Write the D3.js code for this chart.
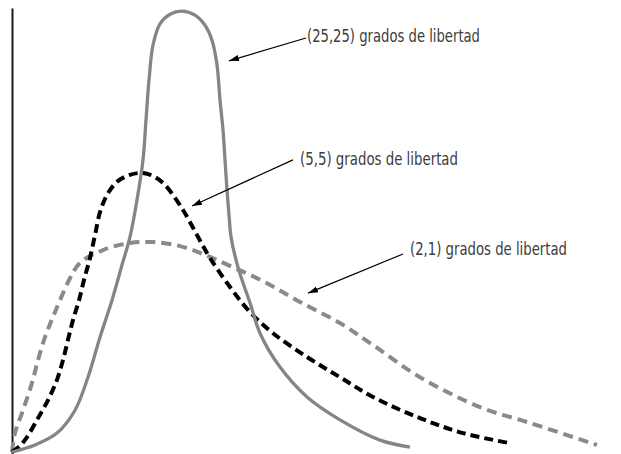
<!DOCTYPE html>
<html>
<head>
<style>
body { margin: 0; background: #fff; }
#chart { display: block; }
.label {
    font-family: "Liberation Sans Narrow", "DejaVu Sans Condensed", sans-serif;
    font-size: 17px;
    fill: #3c3c3c;
}
</style>
</head>
<body>
<svg id="chart" width="621" height="454"></svg>
<script src="https://cdn.jsdelivr.net/npm/d3@7"></script>
<script>
    // curves (x, density)
    const curve_25_25 = [[0,0],[0.23,0.016],[0.45,0.043],[0.63,0.095],[0.76,0.170],[0.88,0.261],[1.00,0.345],
        [1.10,0.425],[1.18,0.489],[1.25,0.573],[1.31,0.664],[1.34,0.755],[1.37,0.845],[1.41,0.925],[1.48,0.973],
        [1.58,0.995],[1.70,1.002],[1.83,0.993],[1.93,0.970],[2.00,0.936],[2.05,0.880],[2.08,0.800],[2.11,0.732],
        [2.13,0.664],[2.15,0.595],[2.17,0.539],[2.19,0.489],[2.26,0.420],[2.38,0.339],[2.48,0.270],[2.68,0.193],
        [2.95,0.125],[3.28,0.073],[3.68,0.027],[3.98,0.011]];
    const curve_5_5 = [[0,0],[0.08,0.014],[0.15,0.034],[0.26,0.077],[0.36,0.118],[0.45,0.164],[0.51,0.209],
        [0.56,0.255],[0.61,0.300],[0.67,0.345],[0.72,0.391],[0.78,0.441],[0.83,0.493],[0.88,0.545],[0.95,0.584],
        [1.05,0.614],[1.18,0.630],[1.31,0.634],[1.43,0.625],[1.53,0.607],[1.71,0.550],[1.85,0.493],[1.98,0.441],
        [2.18,0.375],[2.38,0.318],[2.61,0.270],[2.95,0.216],[3.28,0.170],[3.61,0.125],[4.08,0.077],[4.51,0.043],
        [4.98,0.020]];
    const curve_2_1 = [[0,0],[0.03,0.043],[0.11,0.095],[0.20,0.157],[0.26,0.209],[0.33,0.261],[0.41,0.307],
        [0.48,0.345],[0.58,0.395],[0.68,0.430],[0.91,0.459],[1.18,0.475],[1.41,0.477],[1.68,0.468],[1.93,0.448],
        [2.21,0.420],[2.53,0.386],[2.88,0.341],[3.28,0.293],[3.61,0.243],[4.08,0.170],[4.68,0.102],[5.18,0.066],
        [5.85,0.016]];

    const labels = ["(25,25) grados de libertad", "(5,5) grados de libertad", "(2,1) grados de libertad"];
    // [text x, text y, arrow start x, arrow start y, arrow tip x, arrow tip y, text end x] in data units
    const label_anchor = [[2.95,0.932,2.94,0.941,2.17,0.889,4.68],
                          [2.88,0.652,2.81,0.664,1.80,0.559,4.46],
                          [3.98,0.448,3.91,0.450,2.96,0.361,5.55]];

    const svg = d3.select("#chart");
    const x = d3.scaleLinear().domain([0, 6]).range([12, 612]);
    const y = d3.scaleLinear().domain([0, 1]).range([452, 12]);

    svg.append("defs").append("marker")
        .attr("id", "arrow")
        .attr("markerUnits", "userSpaceOnUse")
        .attr("viewBox", "0 -4 10 8")
        .attr("refX", 10).attr("refY", 0)
        .attr("markerWidth", 10).attr("markerHeight", 8)
        .attr("orient", "auto")
        .append("path")
        .attr("d", "M0,-3.2L10,0L0,3.2Z")
        .attr("fill", "#000");

    // vertical axis, no ticks
    const axis_scale = y.copy().domain([-0.005, 1.01]).range([454, 8]);
    svg.append("g")
        .attr("transform", "translate(" + x(0) + ",0)")
        .call(d3.axisLeft(axis_scale).tickValues([]).tickSizeOuter(0))
        .select(".domain")
        .attr("stroke", "#1a1a1a")
        .attr("stroke-width", 2);

    const line = d3.line()
        .x(d => x(d[0]))
        .y(d => y(d[1]))
        .curve(d3.curveCatmullRom.alpha(0.5));

    svg.append("path")
        .datum(curve_2_1)
        .attr("d", line)
        .attr("fill", "none")
        .attr("stroke", "#8a8a8a")
        .attr("stroke-width", 4)
        .attr("stroke-dasharray", "10,6");

    svg.append("path")
        .datum(curve_5_5)
        .attr("d", line)
        .attr("fill", "none")
        .attr("stroke", "#000")
        .attr("stroke-width", 4)
        .attr("stroke-dasharray", "9,5");

    svg.append("path")
        .datum(curve_25_25)
        .attr("d", line)
        .attr("fill", "none")
        .attr("stroke", "#858585")
        .attr("stroke-width", 3.3);

    svg.selectAll("line.arrow")
        .data(label_anchor)
        .enter()
        .append("line")
        .attr("class", "arrow")
        .attr("x1", d => x(d[2]))
        .attr("y1", d => y(d[3]))
        .attr("x2", d => x(d[4]))
        .attr("y2", d => y(d[5]))
        .attr("stroke", "#000")
        .attr("stroke-width", 1.2)
        .attr("marker-end", "url(#arrow)");

    svg.selectAll("text.label")
        .data(labels)
        .enter()
        .append("text")
        .attr("class", "label")
        .attr("x", (d, i) => x(label_anchor[i][0]))
        .attr("y", (d, i) => y(label_anchor[i][1]))
        .attr("textLength", (d, i) => x(label_anchor[i][6]) - x(label_anchor[i][0]))
        .attr("lengthAdjust", "spacingAndGlyphs")
        .text(d => d);
</script>
</body>
</html>
